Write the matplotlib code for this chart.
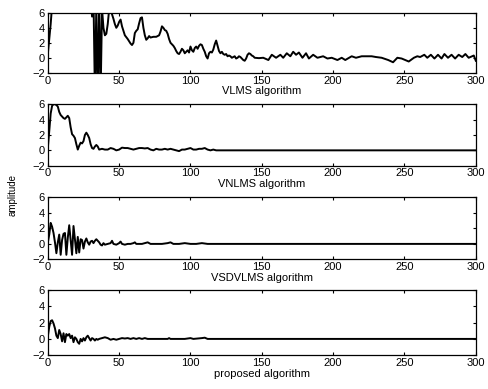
import matplotlib
matplotlib.use("Agg")
import matplotlib.pyplot as plt

plt.rcParams['font.family'] = ['Liberation Sans', 'DejaVu Sans']

# VLMS algorithm (values above 6 / below -2 are clipped by the axes)
vlms_n = [0, 1, 2, 3, 5, 8, 12, 16, 20, 24, 28, 30, 31, 32, 33, 34, 35, 36, 37, 38,
          39, 40, 41, 42, 43, 44, 45, 46, 47, 48, 49, 50, 51, 52, 54, 56, 58, 59, 60, 61,
          62, 63, 64, 65, 66, 67, 68, 69, 70, 71, 72, 74, 76, 78, 79, 80, 81, 82, 83, 84,
          85, 86, 87, 88, 89, 90, 91, 92, 93, 94, 95, 96, 97, 98, 99, 100, 101, 102, 103, 104,
          105, 106, 107, 108, 109, 110, 111, 112, 113, 114, 115, 116, 117, 118, 119, 120, 121, 122, 123, 124,
          125, 126, 127, 128, 129, 130, 131, 132, 133, 134, 135, 136, 137, 138, 139, 140, 141, 142, 143, 144,
          145, 148, 151, 154.6, 157, 160, 163, 165, 167.5, 170, 172, 174, 176, 178.5, 181, 183, 186, 189,
          193, 196, 199, 203, 206, 208.5, 213, 216, 220, 224, 227, 230, 234, 238.6, 242, 245,
          248, 253, 256.6, 259, 261, 263.9, 266, 268.5, 271, 273.5, 276, 278, 280.5, 283, 285.5, 288,
          290.5, 292.7, 295, 298.6, 300]
vlms_v = [0.5, 2.5, 4.5, 7, 10, 12, 11, 13, 12, 10, 9, 8, 5.5, 8, -5, 7, -6, 8, -5, 6.5,
          4, 3, 3.2, 4.5, 6.5, 7, 5.8, 5.2, 4.5, 4.0, 4.3, 4.8, 5.1, 4.2, 3.0, 2.5, 1.9, 1.7, 2.0, 3.3,
          3.6, 3.8, 4.6, 5.3, 5.4, 4.0, 3.0, 2.4, 2.6, 2.9, 2.7, 2.8, 2.8, 3.0, 3.5, 4.2, 4.0, 3.7, 3.6, 3.2,
          2.5, 2.0, 1.8, 1.6, 1.3, 0.9, 0.6, 0.5, 0.8, 1.2, 1.0, 0.6, 0.8, 1.0, 0.7, 1.5, 1.0, 0.8, 1.3, 1.5,
          1.2, 1.6, 1.8, 1.7, 1.2, 0.8, 0.2, -0.1, 0.6, 0.8, 0.7, 1.1, 1.8, 2.3, 1.6, 0.9, 0.6, 0.8, 0.5, 0.4,
          0.5, 0.2, 0.3, 0.2, 0.0, 0.1, 0.2, -0.1, 0.0, 0.2, 0.1, -0.1, -0.3, -0.4, -0.1, 0.4, 0.6, 0.5, 0.3, 0.2,
          0.0, -0.05, 0.0, -0.3, 0.4, 0.0, 0.4, 0.0, 0.6, 0.2, 0.8, 0.4, 0.7, 0.0, 0.6, -0.1, 0.4, 0.0,
          0.2, -0.1, 0.0, -0.3, 0.0, -0.3, 0.2, 0.0, 0.2, 0.2, 0.2, 0.1, 0.0, -0.3, -0.6, 0.0,
          -0.1, -0.5, 0.0, 0.2, 0.1, 0.4, 0.0, 0.4, -0.1, 0.4, -0.1, 0.5, 0.0, 0.4, -0.1, 0.4,
          0.1, 0.5, 0.0, 0.3, -0.4]

# VNLMS algorithm
vnlms_n = [0, 1, 2, 3, 4, 5, 6, 7, 8, 9, 10, 11, 12, 13, 14, 15, 16, 17, 18, 19,
           20, 21, 22, 23, 24, 25, 26, 27, 28, 29, 30, 31, 32, 33, 34, 35, 36, 38, 40, 42,
           44, 46, 48, 50, 52, 54, 56, 58, 60, 62, 64, 66, 68, 70, 72, 74, 76, 78, 80, 82,
           84, 86, 88, 90, 92, 94, 96, 98, 100, 102, 104, 106, 108, 110, 112, 114, 116, 118, 300]
vnlms_v = [0.3, 2.5, 4.8, 5.8, 6.0, 6.0, 5.9, 5.7, 5.0, 4.6, 4.4, 4.2, 4.1, 4.3, 4.5, 4.2, 3.0, 2.1, 1.9, 1.6,
           0.8, 0.1, 0.6, 1.0, 0.9, 1.2, 2.0, 2.3, 2.0, 1.6, 0.8, 0.3, 0.2, 0.5, 0.7, 0.5, 0.1, 0.2, 0.1, 0.1,
           0.3, 0.2, 0.0, 0.1, 0.35, 0.3, 0.3, 0.2, 0.1, 0.2, 0.3, 0.3, 0.25, 0.3, 0.1, 0.0, 0.2, 0.1, 0.1, 0.2,
           0.1, 0.2, 0.1, 0.0, -0.1, 0.1, 0.1, 0.2, 0.3, 0.1, 0.1, 0.2, 0.2, 0.3, 0.1, 0.0, 0.1, 0.0, 0.0]

# VSDVLMS algorithm
vsdvlms_n = [0, 1, 2, 3, 4, 5, 6, 7, 8, 9, 10, 11, 12, 13, 14, 15, 16, 17, 18, 19,
             20, 21, 22, 23, 24, 25, 26, 27, 28, 29, 30, 31, 32, 33, 34, 35, 36, 37, 38, 39,
             40, 42, 44, 45, 46, 48, 50, 51, 52, 54, 56, 58, 60, 61, 62, 64, 66, 68, 70, 72,
             76, 80, 84, 86, 88, 92, 96, 100, 104, 108, 112, 300]
vsdvlms_v = [0.2, 1.2, 2.7, 2.2, 1.4, 0.2, -1.2, 0.2, 1.2, -1.4, 0.5, 1.3, 1.4, -1.4, 0.8, 2.4, 0.5, -1.4, 2.3, 0.6,
             -1.2, 0.9, -1.1, 0.6, 0.5, -0.6, 0.3, 0.7, 0.2, -0.1, 0.3, 0.4, 0.1, 0.4, 0.6, 0.4, 0.2, -0.1, -0.2, 0.1,
             -0.1, 0.0, 0.1, 0.4, 0.0, -0.1, 0.1, 0.3, 0.0, -0.1, 0.0, 0.0, 0.1, 0.2, 0.0, 0.0, 0.0, 0.1, 0.2, 0.0,
             0.0, 0.0, 0.1, 0.2, 0.0, 0.0, 0.1, 0.0, 0.0, 0.1, 0.0, 0.0]

# proposed algorithm
prop_n = [0, 1, 2, 3, 4, 5, 6, 7, 8, 9, 10, 11, 12, 13, 14, 15, 16, 17, 18, 19,
          20, 21, 22, 23, 24, 25, 26, 27, 28, 29, 30, 31, 32, 33, 34, 35, 36, 38, 40, 42,
          44, 46, 48, 50, 52, 54, 56, 58, 60, 62, 64, 66, 68, 70, 72, 76, 80, 84, 85, 86,
          96, 100, 102, 108, 110, 112, 116, 300]
prop_v = [0.3, 1.5, 2.2, 2.3, 1.9, 1.3, 0.4, 0.1, 1.1, 0.6, -0.3, 0.7, -0.4, 0.6, 0.4, 0.6, 0.1, 0.4, -0.4, 0.2,
          0.0, -0.4, -0.6, 0.0, -0.3, 0.1, -0.2, 0.2, 0.4, 0.1, -0.2, 0.1, 0.0, -0.2, 0.0, -0.1, 0.0, 0.1, 0.2, 0.1,
          -0.1, 0.0, -0.1, 0.0, 0.1, 0.05, 0.1, 0.0, 0.1, 0.0, 0.1, 0.0, 0.1, 0.0, 0.0, 0.0, 0.0, 0.0, 0.1, 0.0,
          0.0, 0.1, 0.0, 0.1, 0.15, 0.0, 0.0, 0.0]

series = [(vlms_n, vlms_v, 'VLMS algorithm'),
          (vnlms_n, vnlms_v, 'VNLMS algorithm'),
          (vsdvlms_n, vsdvlms_v, 'VSDVLMS algorithm'),
          (prop_n, prop_v, 'proposed algorithm')]

fig = plt.figure(figsize=(4.88, 3.89), dpi=100)

# axes positions (left, bottom, width, height) in figure fraction
boxes = [[0.098, 0.813, 0.877, 0.154],
         [0.098, 0.574, 0.877, 0.158],
         [0.098, 0.333, 0.877, 0.160],
         [0.098, 0.087, 0.877, 0.167]]

for (xs, ys, name), box in zip(series, boxes):
    ax = fig.add_axes(box)
    ax.plot(xs, ys, 'k-', lw=1.4)
    ax.set_xlim(0, 300)
    ax.set_ylim(-2, 6)
    ax.set_xticks([0, 50, 100, 150, 200, 250, 300])
    ax.set_yticks([-2, 0, 2, 4, 6])
    ax.tick_params(direction='in', top=True, right=True, length=2.5, width=0.8,
                   labelsize=8, pad=2)
    for s in ax.spines.values():
        s.set_linewidth(0.9)
    ax.set_xlabel(name, fontsize=8, labelpad=0.5)

fig.text(0.025, 0.5, 'amplitude', rotation=90, fontsize=7, ha='center', va='center')

plt.savefig('out.png', dpi=100)
